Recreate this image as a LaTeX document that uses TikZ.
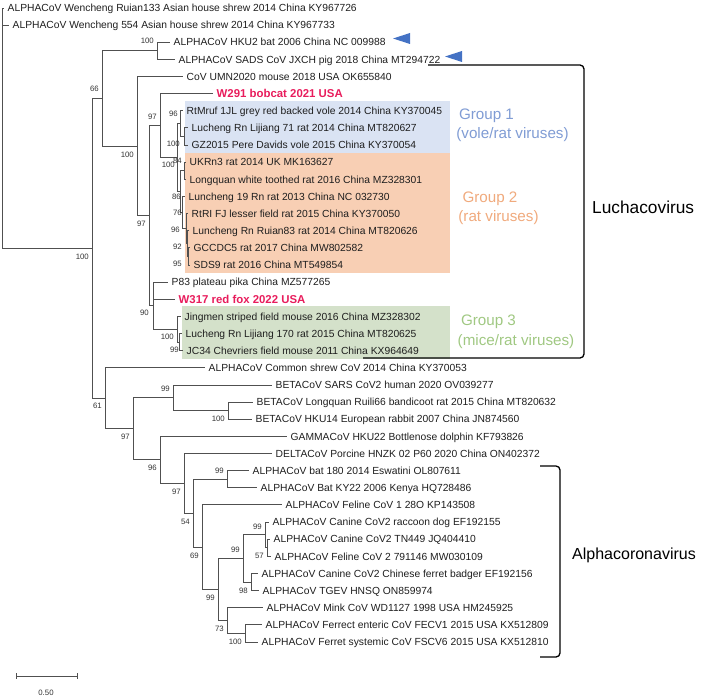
\documentclass[tikz,border=0pt]{standalone}
\usepackage{fontspec}
\setmainfont{Liberation Sans}
\begin{document}
\begin{tikzpicture}[x=1pt,y=-1pt,
  br/.style={draw=treeln, line width=0.9pt},
  brk/.style={draw=black, line width=1.3pt, rounded corners=4pt},
  lf/.style={anchor=base west, inner sep=0pt, xshift=3.5pt, yshift=-3.7pt, font=\fontsize{10.3}{12}\selectfont, text=leafc},
  hl/.style={lf, font=\bfseries\fontsize{11.4}{13}\selectfont, text=hot},
  bs/.style={anchor=east, inner sep=0pt, font=\fontsize{7.8}{9}\selectfont, text=bsc},
  grp/.style={anchor=base, inner sep=0pt, font=\fontsize{15.2}{17}\selectfont},
  big/.style={anchor=west, inner sep=0pt, font=\fontsize{17.3}{19}\selectfont},
  tri/.style={fill=triblue}]
\definecolor{treeln}{RGB}{80,80,80}
\definecolor{leafc}{RGB}{30,30,30}
\definecolor{bsc}{RGB}{50,50,50}
\definecolor{hot}{RGB}{232,28,92}
\definecolor{g1f}{RGB}{218,227,243}
\definecolor{g2f}{RGB}{248,207,180}
\definecolor{g3f}{RGB}{212,225,202}
\definecolor{g1t}{RGB}{128,156,212}
\definecolor{g2t}{RGB}{240,170,125}
\definecolor{g3t}{RGB}{160,200,130}
\definecolor{triblue}{RGB}{68,114,196}
\useasboundingbox (0,0) rectangle (703,700);
% group backgrounds
\fill[g1f] (185,101) rectangle (450,153);
\fill[g2f] (185,153) rectangle (450,273);
\fill[g3f] (182,306) rectangle (450,359);
% leaf tips
\coordinate (l1) at (4,8.0);
\coordinate (l2) at (9,25.1);
\coordinate (l3) at (170,42.3);
\coordinate (l4) at (175,59.4);
\coordinate (l5) at (183,76.5);
\coordinate (l6) at (213,93.7);
\coordinate (l7) at (183,110.8);
\coordinate (l8) at (188,127.9);
\coordinate (l9) at (188,145.1);
\coordinate (l10) at (186,162.2);
\coordinate (l11) at (186,179.4);
\coordinate (l12) at (185,196.5);
\coordinate (l13) at (188,213.6);
\coordinate (l14) at (189,230.8);
\coordinate (l15) at (190,247.9);
\coordinate (l16) at (190,265.0);
\coordinate (l17) at (168,282.2);
\coordinate (l18) at (175,299.3);
\coordinate (l19) at (181,316.4);
\coordinate (l20) at (182,333.6);
\coordinate (l21) at (183,350.7);
\coordinate (l22) at (205,367.8);
\coordinate (l23) at (272,385.0);
\coordinate (l24) at (253,402.1);
\coordinate (l25) at (252,419.2);
\coordinate (l26) at (287,436.4);
\coordinate (l27) at (272,453.5);
\coordinate (l28) at (249,470.6);
\coordinate (l29) at (257,487.8);
\coordinate (l30) at (282,504.9);
\coordinate (l31) at (269,522.0);
\coordinate (l32) at (270,539.2);
\coordinate (l33) at (271,556.3);
\coordinate (l34) at (258,573.4);
\coordinate (l35) at (259,590.6);
\coordinate (l36) at (263,607.7);
\coordinate (l37) at (262,624.8);
\coordinate (l38) at (258,642.0);
% internal nodes
\coordinate (root) at (2,128);
\coordinate (n100a) at (92,248.4);
\coordinate (n66) at (102,98.5);
\coordinate (n100b) at (157,50.85);
\coordinate (n100c) at (137,146.1);
\coordinate (n97b) at (149,215.7);
\coordinate (n97p) at (160,125.7);
\coordinate (n100e) at (177,157.7);
\coordinate (n96) at (180,123.65);
\coordinate (n100f) at (184,136.5);
\coordinate (nG2) at (180,191.7);
\coordinate (nA) at (184,170.8);
\coordinate (nB) at (182,212.55);
\coordinate (nC) at (186,228.6);
\coordinate (nD) at (187,243.6);
\coordinate (nE) at (188,256.45);
\coordinate (n90) at (153,305.75);
\coordinate (n100g) at (177,329.3);
\coordinate (n99g) at (179,342.15);
\coordinate (n61) at (105,398.3);
\coordinate (n97) at (133,428.85);
\coordinate (n99s) at (173,397.8);
\coordinate (n100h) at (228,410.65);
\coordinate (n96g) at (160,459.9);
\coordinate (n97c) at (184,483.35);
\coordinate (n54) at (193,513.2);
\coordinate (n99b) at (227,479.2);
\coordinate (n69) at (202,547.2);
\coordinate (n99c) at (218,589.5);
\coordinate (n99d) at (243,558.45);
\coordinate (n99e) at (265,534.9);
\coordinate (n57) at (267,547.75);
\coordinate (n98) at (251,582.0);
\coordinate (n73) at (227,620.55);
\coordinate (n100i) at (245,633.4);
% branches
\foreach \p/\c in {root/l1,root/l2,root/n100a,
  n100a/n66,n100a/n61,
  n66/n100b,n66/n100c,n100b/l3,n100b/l4,
  n100c/l5,n100c/n97b,n97b/n97p,n97b/n90,
  n97p/l6,n97p/n100e,n100e/n96,n100e/nG2,
  n96/l7,n96/n100f,n100f/l8,n100f/l9,
  nG2/nA,nG2/nB,nA/l10,nA/l11,nB/l12,nB/nC,nC/l13,nC/nD,nD/l14,nD/nE,nE/l15,nE/l16,
  n90/l17,n90/l18,n90/n100g,n100g/l19,n100g/n99g,n99g/l20,n99g/l21,
  n61/l22,n61/n97,n97/n99s,n97/n96g,n99s/l23,n99s/n100h,n100h/l24,n100h/l25,
  n96g/l26,n96g/n97c,n97c/l27,n97c/n54,n54/n99b,n54/n69,n99b/l28,n99b/l29,
  n69/l30,n69/n99c,n99c/n99d,n99c/n73,n99d/n99e,n99d/n98,
  n99e/l31,n99e/n57,n57/l32,n57/l33,n98/l34,n98/l35,
  n73/l36,n73/n100i,n100i/l37,n100i/l38}
  \draw[br] (\p) |- (\c);
% leaf labels
\node[lf] (t1) at (l1) {ALPHACoV Wencheng Ruian133 Asian house shrew 2014 China KY967726};
\node[lf] (t2) at (l2) {ALPHACoV Wencheng 554 Asian house shrew 2014 China KY967733};
\node[lf] (t3) at (l3) {ALPHACoV HKU2 bat 2006 China NC 009988};
\node[lf] (t4) at (l4) {ALPHACoV SADS CoV JXCH pig 2018 China MT294722};
\node[lf] (t5) at (l5) {CoV UMN2020 mouse 2018 USA OK655840};
\node[hl] (t6) at (l6) {W291 bobcat 2021 USA};
\node[lf] (t7) at (l7) {RtMruf 1JL grey red backed vole 2014 China KY370045};
\node[lf] (t8) at (l8) {Lucheng Rn Lijiang 71 rat 2014 China MT820627};
\node[lf] (t9) at (l9) {GZ2015 Pere Davids vole 2015 China KY370054};
\node[lf] (t10) at (l10) {UKRn3 rat 2014 UK MK163627};
\node[lf] (t11) at (l11) {Longquan white toothed rat 2016 China MZ328301};
\node[lf] (t12) at (l12) {Luncheng 19 Rn rat 2013 China NC 032730};
\node[lf] (t13) at (l13) {RtRI FJ lesser field rat 2015 China KY370050};
\node[lf] (t14) at (l14) {Luncheng Rn Ruian83 rat 2014 China MT820626};
\node[lf] (t15) at (l15) {GCCDC5 rat 2017 China MW802582};
\node[lf] (t16) at (l16) {SDS9 rat 2016 China MT549854};
\node[lf] (t17) at (l17) {P83 plateau pika China MZ577265};
\node[hl] (t18) at (l18) {W317 red fox 2022 USA};
\node[lf] (t19) at (l19) {Jingmen striped field mouse 2016 China MZ328302};
\node[lf] (t20) at (l20) {Lucheng Rn Lijiang 170 rat 2015 China MT820625};
\node[lf] (t21) at (l21) {JC34 Chevriers field mouse 2011 China KX964649};
\node[lf] (t22) at (l22) {ALPHACoV Common shrew CoV 2014 China KY370053};
\node[lf] (t23) at (l23) {BETACoV SARS CoV2 human 2020 OV039277};
\node[lf] (t24) at (l24) {BETACoV Longquan Ruili66 bandicoot rat 2015 China MT820632};
\node[lf] (t25) at (l25) {BETACoV HKU14 European rabbit 2007 China JN874560};
\node[lf] (t26) at (l26) {GAMMACoV HKU22 Bottlenose dolphin KF793826};
\node[lf] (t27) at (l27) {DELTACoV Porcine HNZK 02 P60 2020 China ON402372};
\node[lf] (t28) at (l28) {ALPHACoV bat 180 2014 Eswatini OL807611};
\node[lf] (t29) at (l29) {ALPHACoV Bat KY22 2006 Kenya HQ728486};
\node[lf] (t30) at (l30) {ALPHACoV Feline CoV 1 28O KP143508};
\node[lf] (t31) at (l31) {ALPHACoV Canine CoV2 raccoon dog EF192155};
\node[lf] (t32) at (l32) {ALPHACoV Canine CoV2 TN449 JQ404410};
\node[lf] (t33) at (l33) {ALPHACoV Feline CoV 2 791146 MW030109};
\node[lf] (t34) at (l34) {ALPHACoV Canine CoV2 Chinese ferret badger EF192156};
\node[lf] (t35) at (l35) {ALPHACoV TGEV HNSQ ON859974};
\node[lf] (t36) at (l36) {ALPHACoV Mink CoV WD1127 1998 USA HM245925};
\node[lf] (t37) at (l37) {ALPHACoV Ferrect enteric CoV FECV1 2015 USA KX512809};
\node[lf] (t38) at (l38) {ALPHACoV Ferret systemic CoV FSCV6 2015 USA KX512810};
% bootstrap values
\node[bs] (b1) at (154,41) {100};
\node[bs] (b2) at (99,89) {66};
\node[bs] (b3) at (89,257) {100};
\node[bs] (b4) at (134,154.5) {100};
\node[bs] (b5) at (157,117) {97};
\node[bs] (b6) at (178,114) {96};
\node[bs] (b7) at (180,144) {100};
\node[bs] (b8) at (175,165) {100};
\node[bs] (b9) at (182,161) {84};
\node[bs] (b10) at (181,197) {86};
\node[bs] (b11) at (182,213) {76};
\node[bs] (b12) at (180,230) {96};
\node[bs] (b13) at (182,247) {92};
\node[bs] (b14) at (182,264) {95};
\node[bs] (b15) at (146,224) {97};
\node[bs] (b16) at (149,313) {90};
\node[bs] (b17) at (174,337) {100};
\node[bs] (b18) at (179,350) {99};
\node[bs] (b19) at (102,406) {61};
\node[bs] (b20) at (130,437) {97};
\node[bs] (b21) at (170,389) {99};
\node[bs] (b22) at (225,418.5) {100};
\node[bs] (b23) at (157,468) {96};
\node[bs] (b24) at (181,491.5) {97};
\node[bs] (b25) at (224,470.5) {99};
\node[bs] (b26) at (190,521.5) {54};
\node[bs] (b27) at (199,555.5) {69};
\node[bs] (b28) at (215,598) {99};
\node[bs] (b29) at (240,550) {99};
\node[bs] (b30) at (262,526.5) {99};
\node[bs] (b31) at (264,556) {57};
\node[bs] (b32) at (248,590.5) {98};
\node[bs] (b33) at (224,629) {73};
\node[bs] (b34) at (242,642) {100};
% arrows
\fill[tri] (393,38.5) -- (410,33) -- (410,44) -- cycle;
\fill[tri] (445,56.5) -- (462,51) -- (462,62) -- cycle;
% group labels
\node[grp, text=g1t] (g1a) at (486.5,119.5) {Group 1};
\node[grp, text=g1t] (g1b) at (512.5,138.5) {(vole/rat viruses)};
\node[grp, text=g2t] (g2a) at (490,202.5) {Group 2};
\node[grp, text=g2t] (g2b) at (498.5,221.5) {(rat viruses)};
\node[grp, text=g3t] (g3a) at (488.5,325.5) {Group 3};
\node[grp, text=g3t] (g3b) at (516,345.5) {(mice/rat viruses)};
% clade brackets
\draw[brk] (428,65) -- (584,65) -- (584,358) -- (363,358);
\draw[brk] (540,466) -- (560,466) -- (560,657) -- (540,657);
\node[big] (luc) at (592,207) {Luchacovirus};
\node[big, font=\fontsize{16}{19}\selectfont] (alp) at (572,555) {Alphacoronavirus};
% scale bar
\coordinate (s1) at (16,676);
\coordinate (s2) at (77,676);
\draw[br] (s1) -- (s2);
\draw[br] ([yshift=3pt]s1) -- ([yshift=-3pt]s1);
\draw[br] ([yshift=3pt]s2) -- ([yshift=-3pt]s2);
\node[anchor=center, inner sep=0pt, font=\fontsize{7.8}{9}\selectfont, text=bsc] (sc) at (46,693) {0.50};
\end{tikzpicture}
\end{document}
